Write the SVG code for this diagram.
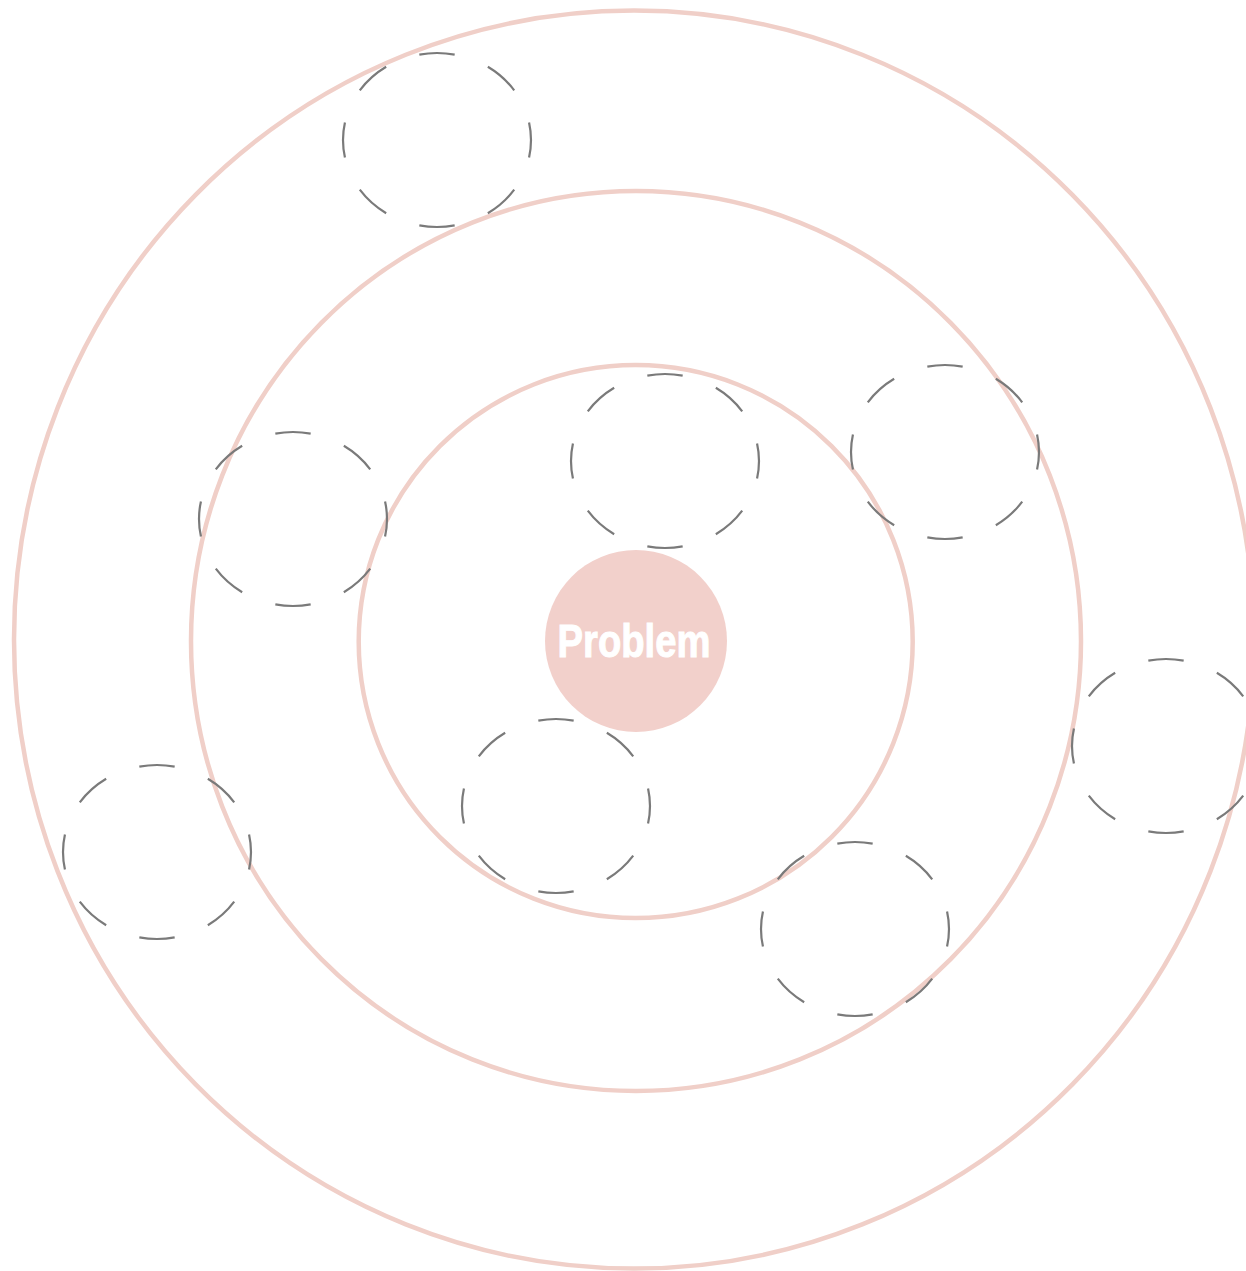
<svg xmlns="http://www.w3.org/2000/svg" width="1246" height="1271" viewBox="0 0 1246 1271">
<style>
.ring{fill:none;stroke:#f0cfc8;stroke-width:4.5}
.idea{fill:none;stroke:#7a7a7a;stroke-width:2.2;stroke-dasharray:50 50;stroke-dashoffset:25}
.lbl{font-family:"Liberation Sans",Arial,sans-serif;font-weight:bold;font-size:46px;fill:#ffffff;stroke:#ffffff;stroke-width:1}
</style>
<rect width="1246" height="1271" fill="#ffffff"/>
<g id="rings">
<ellipse id="ring-outer" class="ring" cx="634" cy="639.6" rx="620" ry="629"/>
<ellipse id="ring-middle" class="ring" cx="636" cy="641" rx="445" ry="450"/>
<ellipse id="ring-inner" class="ring" cx="635.7" cy="641.6" rx="277" ry="276.5"/>
</g>
<g id="problem">
<circle cx="636" cy="641" r="91" fill="#f2d0cb"/>
<text class="lbl" x="634" y="657" text-anchor="middle" textLength="153" lengthAdjust="spacingAndGlyphs">Problem</text>
</g>
<g id="idea1"><ellipse class="idea" cx="437" cy="140" rx="94" ry="87" pathLength="800"/></g>
<g id="idea2"><ellipse class="idea" cx="665" cy="461" rx="94" ry="87" pathLength="800"/></g>
<g id="idea3"><ellipse class="idea" cx="945" cy="452" rx="94" ry="87" pathLength="800"/></g>
<g id="idea4"><ellipse class="idea" cx="293" cy="519" rx="94" ry="87" pathLength="800"/></g>
<g id="idea5"><ellipse class="idea" cx="1166" cy="746" rx="94" ry="87" pathLength="800"/></g>
<g id="idea6"><ellipse class="idea" cx="556" cy="806" rx="94" ry="87" pathLength="800"/></g>
<g id="idea7"><ellipse class="idea" cx="157" cy="852" rx="94" ry="87" pathLength="800"/></g>
<g id="idea8"><ellipse class="idea" cx="855" cy="929" rx="94" ry="87" pathLength="800"/></g>
<g id="connectors"></g>
</svg>
